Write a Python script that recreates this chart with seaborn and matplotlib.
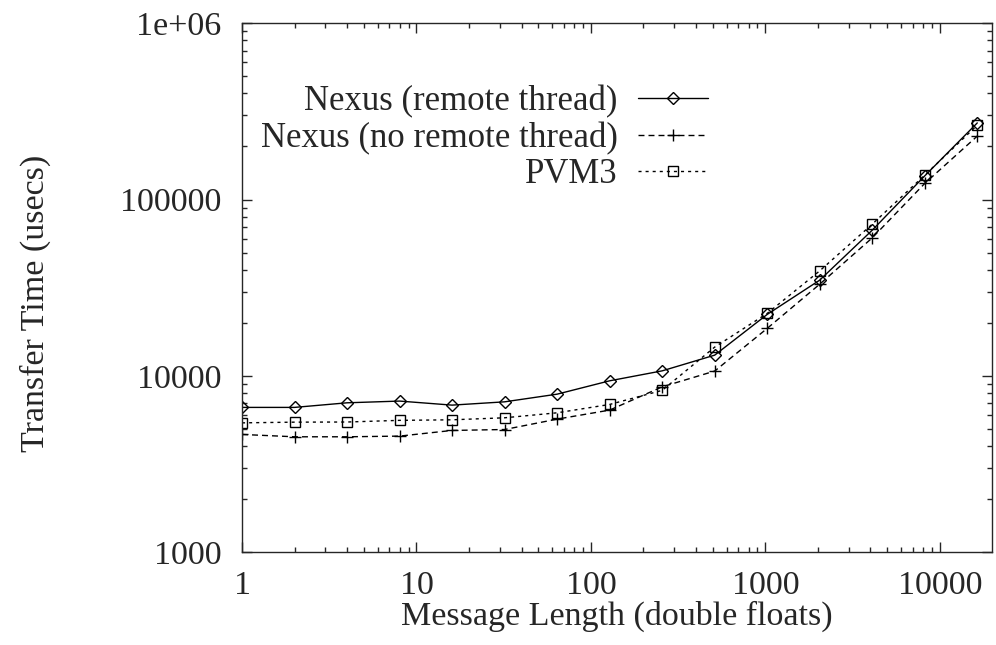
import matplotlib
matplotlib.use("Agg")
import matplotlib.pyplot as plt
import seaborn as sns
import numpy as np
import pandas as pd
from matplotlib.ticker import FixedLocator, FixedFormatter, LogLocator, NullFormatter

# ── Data ─────────────────────────────────────────────────────────────────────
msg_len = [1, 2, 4, 8, 16, 32, 64, 128, 256, 512, 1024, 2048, 4096, 8192, 16384]
remote_thread = [6620, 6620, 7030, 7190, 6820, 7120, 7870, 9370, 10670, 13100,
                 22300, 34900, 67000, 136200, 272000]
no_remote_thread = [4650, 4510, 4510, 4550, 4900, 4960, 5680, 6390, 8660, 10640,
                    18580, 33100, 60600, 123400, 229000]
pvm3 = [5410, 5460, 5470, 5590, 5630, 5780, 6170, 6880, 8270, 14550,
        22600, 39400, 72500, 137500, 264000]

x_ticks = [1, 10, 100, 1000, 10000]
x_labels = ["1", "10", "100", "1000", "10000"]
y_ticks = [1000, 10000, 100000, 1000000]
y_labels = ["1000", "10000", "100000", "1e+06"]

sns.set_style("ticks")
plt.rcParams["font.family"] = ["Liberation Serif", "DejaVu Serif"]
plt.rcParams["font.size"] = 24.5

fig = plt.figure(figsize=(9.96, 6.45), dpi=100)
ax = fig.add_axes([0.243, 0.144, 0.753, 0.820])

series = [
    ("Nexus (remote thread)", remote_thread, "D", 6, "-"),
    ("Nexus (no remote thread)", no_remote_thread, "+", 9, (0, (4.3, 2.9))),
    ("PVM3", pvm3, "s", 7, (0, (2.2, 2.9))),
]
for label, vals, mk, ms, ls in series:
    df = pd.DataFrame({"x": msg_len, "y": vals})
    sns.lineplot(data=df, x="x", y="y", ax=ax, color="black", linewidth=1.0,
                 linestyle=ls, marker=mk, markersize=ms, markerfacecolor="none",
                 markeredgecolor="black", markeredgewidth=1.0, label=label)

ax.set_xscale("log")
ax.set_yscale("log")
ax.set_xlim(1, 19900)
ax.set_ylim(1000, 1000000)

ax.xaxis.set_major_locator(FixedLocator(x_ticks))
ax.xaxis.set_major_formatter(FixedFormatter(x_labels))
ax.yaxis.set_major_locator(FixedLocator(y_ticks))
ax.yaxis.set_major_formatter(FixedFormatter(y_labels))
ax.xaxis.set_minor_locator(LogLocator(base=10, subs=np.arange(2, 10)))
ax.yaxis.set_minor_locator(LogLocator(base=10, subs=np.arange(2, 10)))
ax.xaxis.set_minor_formatter(NullFormatter())
ax.yaxis.set_minor_formatter(NullFormatter())

ax.tick_params(which="both", direction="in", top=True, right=True, width=1.0)
ax.tick_params(which="major", length=7)
ax.tick_params(axis="x", which="major", pad=13)
ax.tick_params(axis="y", which="major", pad=15)
ax.tick_params(which="minor", length=3.5)
for s in ax.spines.values():
    s.set_linewidth(1.0)
    s.set_visible(True)

ax.set_xlabel("Message Length (double floats)", labelpad=0)
ax.set_ylabel("Transfer Time (usecs)")
ax.yaxis.set_label_coords(-0.255, 0.47)

ax.legend(loc="upper right", bbox_to_anchor=(0.644, 0.916), frameon=False,
          markerfirst=False, handlelength=2.0, handletextpad=0.6,
          labelspacing=0.1, borderpad=0, fontsize=25)

fig.savefig("out.png", dpi=100)
